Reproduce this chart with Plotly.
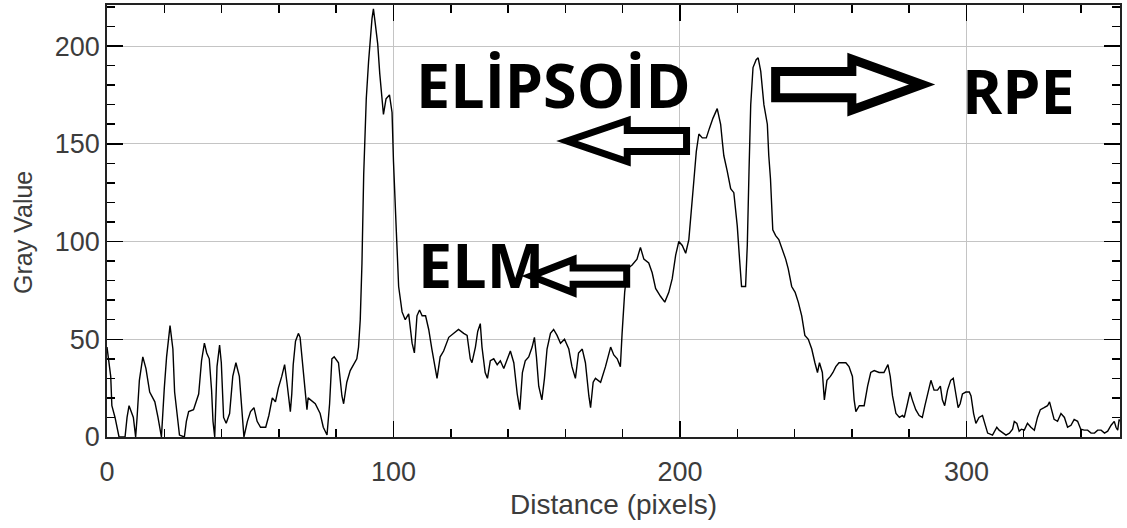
import plotly.graph_objects as go

# Profile data (distance in pixels, gray value)
distance = [0, 1.3, 1.7, 2.8, 4.2, 6.3, 7, 7.7, 9.2, 10, 10.5, 11.3, 12.5, 13.6, 14.9, 16.7, 17.8, 19, 20, 20.8,
            22, 23, 23.6, 24.5, 25.3, 27, 27.7, 28.5, 30.2, 32, 33, 34, 34.8, 35.7, 36.5, 37, 37.6, 38.4, 39.3, 39.9,
            40.7, 41.6, 42.8, 43.9, 45, 46.2, 47, 47.8, 49, 50.1, 51.3, 52.4, 53.6, 55.4, 56.5, 57.7, 58.8, 59.8, 61, 62,
            62.8, 64, 64.5, 65, 65.8, 66.8, 67.4, 68.6, 69.8, 70.2, 72.7, 74.4, 75.5, 76.8, 77.7, 78.5, 79.3, 80.8, 82, 82.6,
            83.7, 84.9, 86, 87.2, 87.8, 88.4, 89, 89.6, 90.5, 91.3, 92.5, 93, 93.6, 94.5, 95.2, 96, 96.5, 97.4, 98.6, 99.5,
            100, 101, 101.8, 103, 104.1, 105.3, 106.5, 107.3, 108.2, 109.1, 110, 111.2, 112.3, 113.4, 114.6, 115.2, 116.3, 117.5, 119.3, 121,
            122.7, 124.5, 125.7, 126.8, 127.4, 128.6, 129.4, 130.3, 130.9, 132, 132.8, 133.8, 135, 136.2, 137.3, 138.5, 139.7, 140.8, 142, 143.2,
            144.1, 145, 146, 147.2, 148.4, 149.2, 149.9, 150.7, 151.8, 152.7, 153.6, 154.8, 155.9, 157.1, 158.3, 159.7, 161.2, 162.3, 163.5, 164.6,
            165.9, 167, 168.2, 168.8, 169.7, 170.5, 172.3, 174, 175.8, 176.9, 178.1, 179.2, 179.8, 180.7, 181.6, 183.3, 185, 186.2, 187.4, 189.1,
            190.3, 191.5, 193.2, 194.7, 196.1, 197.3, 198.5, 199.6, 200.8, 202, 203.1, 204, 204.9, 205.7, 206.6, 207.8, 209.2, 210.3, 211.5, 213,
            214.2, 214.8, 215.3, 216.5, 217.7, 218.8, 220, 220.8, 221.5, 222.9, 223.5, 224.1, 224.7, 225.5, 226.6, 227.3, 228.2, 229.3, 230.5, 231,
            231.6, 232.4, 233.4, 234.5, 235.7, 236.9, 237.8, 239, 240.2, 241.3, 242.5, 243.6, 244.8, 246, 247.1, 248, 248.7, 249.7, 250.4, 251.3,
            252.5, 253.4, 254.4, 255.5, 256.7, 257.9, 259, 260.2, 260.8, 261.4, 262.6, 264.3, 265.5, 266.6, 267.8, 269.5, 271.2, 272.6, 273.4, 274.2,
            275.4, 276.6, 277.7, 278.3, 279.4, 280.3, 281.1, 282.3, 283.5, 284.6, 285.5, 286.4, 287.6, 288.7, 289.9, 290.9, 291.6, 292.4, 293.4, 294.5,
            295.4, 296.3, 297.1, 297.8, 298.6, 299.8, 301, 301.6, 302.5, 303.3, 304.4, 305.6, 306.4, 307.4, 309.1, 310.6, 311.4, 312.6, 313.8, 315,
            316.1, 316.7, 317.6, 318.4, 319.2, 320.2, 321.3, 322.5, 323.7, 324.8, 325.8, 327.1, 328.3, 329, 329.8, 330.6, 331.8, 333, 334.2, 335.3,
            336.5, 337.6, 338.8, 339.9, 341.1, 342.3, 343.5, 344.7, 345.8, 347, 348.2, 349.3, 350.5, 351.6, 352.2, 352.8, 353.3, 353.6]
gray_value = [46, 31, 16, 10, 0, 0, 10, 16, 10, 0, 10, 29, 41, 35, 23, 18, 10, 0, 25, 41,
              57, 45, 23, 10, 1, 0, 8, 13, 14, 22, 39, 48, 43, 40, 24, 8, 0, 36, 47, 38,
              10, 7, 12, 31, 38, 31, 14, 0, 8, 13, 15, 8, 5, 5, 11, 20, 18, 25, 31, 37,
              28, 13, 22, 37, 49, 53, 51, 31, 14, 20, 17, 12, 5, 1, 17, 40, 41, 38, 21, 17,
              28, 34, 37, 40, 46, 60, 89, 134, 173, 192, 214, 219, 212, 201, 186, 175, 165, 173, 175, 166,
              141, 105, 77, 64, 60, 63, 48, 43, 62, 65, 62, 62, 55, 45, 36, 30, 41, 44, 51, 53,
              55, 53, 52, 40, 38, 46, 54, 58, 46, 33, 30, 39, 40, 37, 39, 35, 40, 44, 38, 22,
              14, 33, 39, 41, 46, 51, 41, 26, 19, 30, 45, 53, 55, 52, 48, 50, 45, 36, 30, 43,
              45, 38, 21, 15, 28, 30, 28, 36, 46, 42, 40, 36, 53, 74, 86, 88, 91, 97, 91, 89,
              84, 76, 72, 69, 74, 81, 93, 100, 98, 94, 101, 115, 132, 146, 155, 153, 153, 158, 163, 168,
              160, 151, 144, 136, 127, 125, 108, 91, 77, 77, 98, 136, 170, 189, 193, 194, 187, 170, 160, 144,
              132, 106, 103, 101, 96, 91, 86, 77, 74, 69, 62, 52, 50, 45, 38, 33, 38, 33, 19, 29,
              31, 33, 36, 38, 38, 38, 36, 31, 19, 13, 16, 16, 26, 33, 34, 33, 33, 37, 31, 21,
              12, 10, 11, 10, 17, 23, 19, 14, 11, 10, 16, 22, 29, 24, 24, 26, 19, 16, 24, 29,
              30, 22, 15, 17, 22, 23, 23, 21, 12, 7, 10, 11, 7, 2, 1, 5, 3.5, 2, 1, 2,
              4, 8, 7, 3, 4, 3.5, 7, 5, 3.5, 10, 14, 15, 16, 18, 14, 9, 8, 12, 10, 5,
              6, 9, 8, 4, 3.5, 3.5, 2, 2, 3.5, 3.5, 2, 3, 6, 8, 5, 3.5, 9, 8]

x_ticks = [0, 100, 200, 300]
y_ticks = [0, 50, 100, 150, 200]

labels = ["ELİPSOİD", "ELM", "RPE"]


def block_arrow(tip_x, tip_y, tail_x, head_base_x, shaft_half, head_half):
    pts = [(tip_x, tip_y),
           (head_base_x, tip_y + head_half),
           (head_base_x, tip_y + shaft_half),
           (tail_x, tip_y + shaft_half),
           (tail_x, tip_y - shaft_half),
           (head_base_x, tip_y - shaft_half),
           (head_base_x, tip_y - head_half)]
    return "M " + " L ".join(f"{x},{y}" for x, y in pts) + " Z"


fig = go.Figure()
fig.add_trace(go.Scatter(x=distance, y=gray_value, mode="lines",
                         line=dict(color="black", width=1.4), showlegend=False,
                         cliponaxis=False, hoverinfo="skip"))

tick_font = dict(family="Liberation Sans, Arial, sans-serif", size=27, color="#3c3c3c")
title_font = dict(family="Liberation Sans, Arial, sans-serif", size=28, color="#3c3c3c")

common = dict(ticks="inside", ticklen=16, tickwidth=1.5, tickcolor="black", mirror="allticks",
              showline=True, linecolor="#222", linewidth=1.8, showgrid=True, gridcolor="#c4c4c4",
              gridwidth=1, zeroline=False, tickfont=tick_font, automargin=False)

fig.update_xaxes(range=[0, 353.6], tickvals=x_ticks, ticklabelstandoff=10,
                 minor=dict(dtick=20, tick0=0, ticks="inside", ticklen=8, tickcolor="black", showgrid=False),
                 **common)
fig.update_yaxes(range=[0, 221], tickvals=y_ticks, ticklabelstandoff=0,
                 minor=dict(dtick=10, tick0=0, ticks="inside", ticklen=8, tickcolor="black", showgrid=False),
                 **common)

shapes = [
    dict(type="path", xref="x", yref="y", path=block_arrow(160.6, 151.4, 202.3, 181.6, 5.4, 10.5),
         line=dict(color="black", width=7), fillcolor="white", layer="above"),
    dict(type="path", xref="x", yref="y", path=block_arrow(148.0, 82.3, 181.4, 162.7, 4.1, 8.4),
         line=dict(color="black", width=7), fillcolor="white", layer="above"),
    dict(type="path", xref="x", yref="y", path=block_arrow(284.5, 180.3, 233.4, 260.0, 6.7, 13.0),
         line=dict(color="black", width=9), fillcolor="white", layer="above"),
]

ann_font = dict(family="Open Sans, sans-serif", size=61, color="black", weight="bold")
annotations = [
    dict(x=155.9, y=180.5, xref="x", yref="y", text=labels[0], showarrow=False, font=ann_font),
    dict(x=130.6, y=88.4, xref="x", yref="y", text=labels[1], showarrow=False, font=ann_font),
    dict(x=318.0, y=177.4, xref="x", yref="y", text=labels[2], showarrow=False, font=ann_font),
    dict(x=0.5, y=-0.157, xref="paper", yref="paper", text="Distance (pixels)", showarrow=False,
         font=title_font, yanchor="middle", xanchor="center"),
    dict(x=-0.083, y=0.4745, xref="paper", yref="paper", text="Gray Value", showarrow=False, textangle=-90,
         font=dict(family="Liberation Sans, Arial, sans-serif", size=25, color="#3c3c3c"),
         xanchor="center", yanchor="middle"),
]

fig.update_layout(width=1127, height=528, margin=dict(l=107, r=7, t=5, b=91),
                  plot_bgcolor="white", paper_bgcolor="white", hovermode=False,
                  shapes=shapes, annotations=annotations)

fig.write_html("out.html", config={"displayModeBar": False, "staticPlot": True},
               post_script="document.body.style.margin='0px';")
